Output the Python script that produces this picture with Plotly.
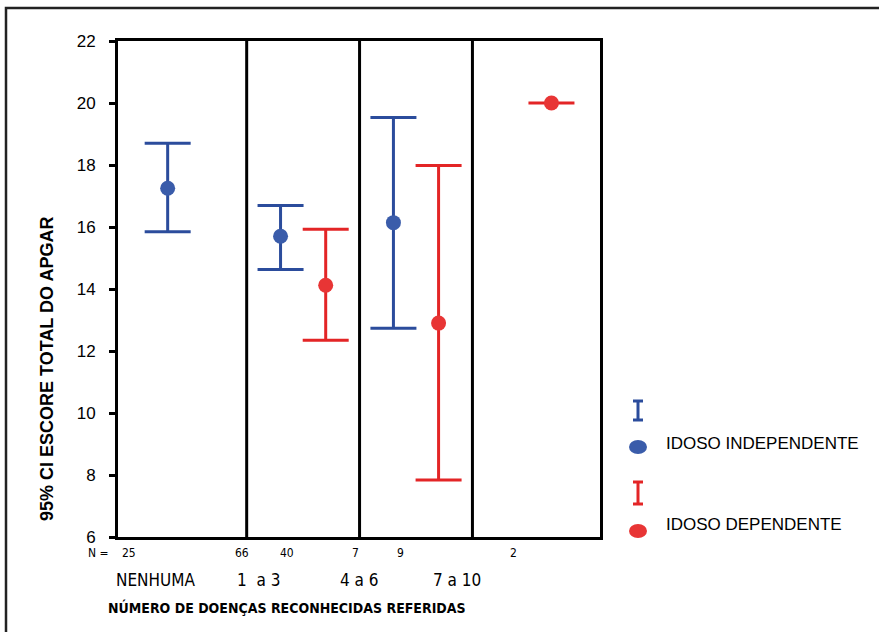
import plotly.graph_objects as go

# ---------------- data ----------------
groups = ["NENHUMA", "1  a 3", "4 a 6", "7 a 10"]

indep_group = [0, 1, 2]
indep_mean = [17.25, 15.70, 16.14]
indep_upper = [18.70, 16.69, 19.53]
indep_lower = [15.85, 14.63, 12.73]
indep_n = [25, 66, 7]

dep_group = [1, 2, 3]
dep_mean = [14.12, 12.90, 20.0]
dep_upper = [15.93, 17.98, 20.0]
dep_lower = [12.35, 7.84, 20.0]
dep_n = [40, 9, 2]

y_ticks = [6, 8, 10, 12, 14, 16, 18, 20, 22]

series_names = ["IDOSO INDEPENDENTE", "IDOSO DEPENDENTE"]

# ---------------- style ----------------
W, H = 879, 632
L, R, T, B = 118, 600, 41, 537
BLUE = "#2B4C9C"
BLUE_M = "#3A5CAA"
RED = "#E32526"
RED_M = "#E83535"
OFFSET = 0.2
XR = [-0.64, 3.63]
YR = [6, 22]
FONT = "Liberation Sans, Arial, sans-serif"
NARROW = "Liberation Sans Narrow, Arial Narrow, DejaVu Sans Condensed, Liberation Sans, Arial, sans-serif"


def px2paper_x(px):
    return (px - L) / (R - L)


def px2paper_y(py):
    return (B - py) / (B - T)


fig = go.Figure()

x_ind = [g - OFFSET for g in indep_group]
x_dep = [g + OFFSET for g in dep_group]

fig.add_trace(go.Scatter(
    x=x_ind, y=indep_mean, mode="markers",
    marker=dict(size=15, color=BLUE_M, line=dict(width=0)),
    error_y=dict(type="data", symmetric=False,
                 array=[u - m for u, m in zip(indep_upper, indep_mean)],
                 arrayminus=[m - l for m, l in zip(indep_mean, indep_lower)],
                 color=BLUE, thickness=3, width=23),
    showlegend=False, name=series_names[0]))

fig.add_trace(go.Scatter(
    x=x_dep, y=dep_mean, mode="markers",
    marker=dict(size=15, color=RED_M, line=dict(width=0)),
    error_y=dict(type="data", symmetric=False,
                 array=[u - m for u, m in zip(dep_upper, dep_mean)],
                 arrayminus=[m - l for m, l in zip(dep_mean, dep_lower)],
                 color=RED, thickness=3, width=23),
    showlegend=False, name=series_names[1]))

shapes = []
# group dividers
for i in range(len(groups) - 1):
    shapes.append(dict(type="line", xref="x", yref="paper", x0=i + 0.5, x1=i + 0.5,
                       y0=0, y1=1, line=dict(color="black", width=3)))
# outer frame (extends beyond page on right/bottom)
shapes.append(dict(type="rect", xref="paper", yref="paper",
                   x0=px2paper_x(6), x1=px2paper_x(W + 200),
                   y0=px2paper_y(H + 200), y1=px2paper_y(8),
                   line=dict(color="#222222", width=2.5), layer="below"))

# legend symbols (I-beams and dots)
for (yt, yb, ydot, col, colm) in [(401, 420, 447, BLUE, BLUE_M), (482, 504, 531, RED, RED_M)]:
    xc = 638
    shapes.append(dict(type="line", xref="paper", yref="paper",
                       x0=px2paper_x(xc), x1=px2paper_x(xc),
                       y0=px2paper_y(yt), y1=px2paper_y(yb), line=dict(color=col, width=3)))
    for yy in (yt, yb):
        shapes.append(dict(type="line", xref="paper", yref="paper",
                           x0=px2paper_x(xc - 5), x1=px2paper_x(xc + 5),
                           y0=px2paper_y(yy), y1=px2paper_y(yy), line=dict(color=col, width=3)))
    shapes.append(dict(type="circle", xref="paper", yref="paper",
                       x0=px2paper_x(xc - 9), x1=px2paper_x(xc + 9),
                       y0=px2paper_y(ydot + 7), y1=px2paper_y(ydot - 7),
                       fillcolor=colm, line=dict(width=0)))

annotations = []
# legend text
for name, yy in zip(series_names, [443, 524]):
    annotations.append(dict(xref="paper", yref="paper", x=px2paper_x(664), y=px2paper_y(yy),
                            text=name, showarrow=False, xanchor="left", yanchor="middle",
                            font=dict(family=FONT, size=17, color="black")))

# category labels
cat_px = [155, 258, 359, 457]
for g, px in zip(groups, cat_px):
    annotations.append(dict(xref="paper", yref="paper", x=px2paper_x(px), y=px2paper_y(580),
                            text=g.replace("  ", "&nbsp; "), showarrow=False, xanchor="center",
                            yanchor="middle",
                            font=dict(family=NARROW, size=17, color="black")))

# N labels
annotations.append(dict(xref="paper", yref="paper", x=px2paper_x(98), y=px2paper_y(553),
                        text="N =", showarrow=False, xanchor="center", yanchor="middle",
                        font=dict(family=NARROW, size=12, color="black")))
N_SHIFT = -0.34
for xs, ns in [(x_ind, indep_n), (x_dep, dep_n)]:
    for x, n in zip(xs, ns):
        annotations.append(dict(xref="x", yref="paper", x=x + N_SHIFT, y=px2paper_y(553),
                                text=str(n), showarrow=False, xanchor="center", yanchor="middle",
                                font=dict(family=NARROW, size=12, color="black")))

# axis titles
annotations.append(dict(xref="paper", yref="paper", x=px2paper_x(287), y=px2paper_y(607),
                        text="<b>NÚMERO DE DOENÇAS RECONHECIDAS REFERIDAS</b>", showarrow=False,
                        xanchor="center", yanchor="middle",
                        font=dict(family=NARROW, size=14, color="black")))
annotations.append(dict(xref="paper", yref="paper", x=px2paper_x(47), y=px2paper_y(369),
                        text="<b>95% CI ESCORE TOTAL DO APGAR</b>", showarrow=False, textangle=-90,
                        xanchor="center", yanchor="middle",
                        font=dict(family=FONT, size=18, color="black")))

fig.update_layout(
    width=W, height=H,
    margin=dict(l=L, r=W - R, t=T, b=H - B, pad=0),
    paper_bgcolor="white", plot_bgcolor="white",
    font=dict(family=FONT, color="black"),
    shapes=shapes, annotations=annotations,
    showlegend=False,
)
fig.update_xaxes(range=XR, showgrid=False, zeroline=False, showticklabels=False, ticks="",
                 showline=True, linewidth=3, linecolor="black", mirror=True, fixedrange=True)
fig.update_yaxes(range=YR, tickvals=y_ticks, showgrid=False, zeroline=False,
                 ticks="outside", ticklen=6, tickwidth=3, tickcolor="black",
                 ticklabelstandoff=10,
                 tickfont=dict(family=FONT, size=17, color="black"),
                 showline=True, linewidth=3, linecolor="black", mirror=True, fixedrange=True)

fig.write_html("out.html", config={"displayModeBar": False},
               post_script="document.body.style.margin='0';")
